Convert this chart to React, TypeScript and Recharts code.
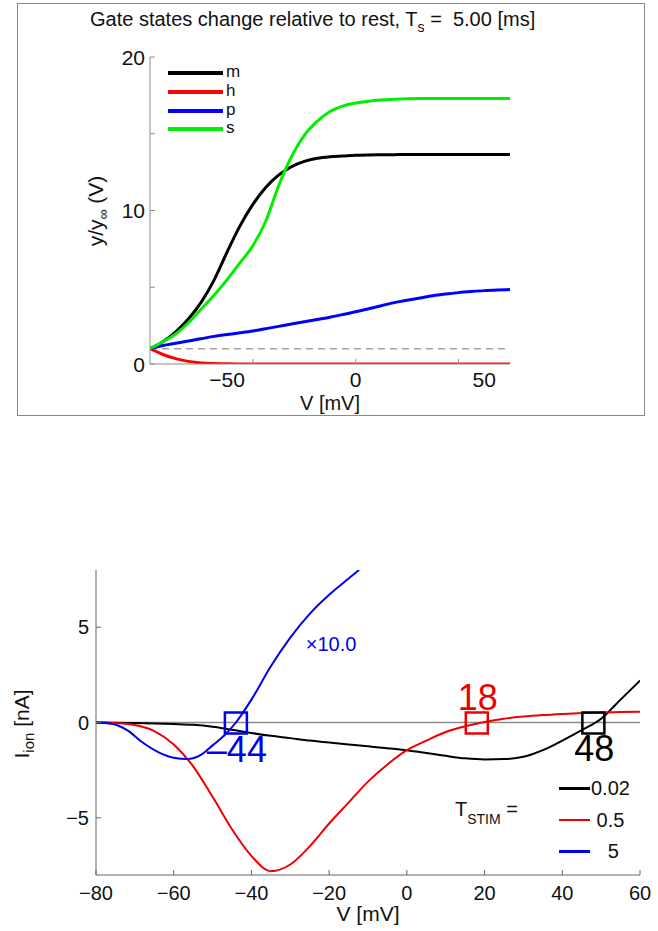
import React from 'react';
import { LineChart, Line, XAxis, YAxis, ReferenceLine, ReferenceDot } from 'recharts';

const FONT = '"Liberation Sans", Arial, Helvetica, sans-serif';

// top panel: gate state ratio y/y_inf after a 5 ms step, vs. step voltage
const gateVoltages = [-80, -75, -70, -65, -60, -55, -50, -45, -40, -35, -30, -25, -20, -15, -10, -5, 0, 5, 10, 15, 20, 25, 30, 35, 40, 45, 50, 55, 60];
const mRatio = [1.0, 1.45, 2.1, 2.95, 4.05, 5.5, 7.3, 9.0, 10.4, 11.5, 12.3, 12.85, 13.2, 13.4, 13.5, 13.55, 13.6, 13.62, 13.63, 13.64, 13.65, 13.65, 13.65, 13.65, 13.65, 13.65, 13.65, 13.65, 13.65];
const hRatio = [1.0, 0.62, 0.35, 0.17, 0.07, 0.03, 0.01, 0.0, 0.0, 0.0, 0.0, 0.0, 0.0, 0.0, 0.0, 0.0, 0.0, 0.0, 0.0, 0.0, 0.0, 0.0, 0.0, 0.0, 0.0, 0.0, 0.0, 0.0, 0.0];
const pRatio = [1.0, 1.2, 1.35, 1.5, 1.65, 1.8, 1.92, 2.03, 2.15, 2.3, 2.45, 2.6, 2.75, 2.9, 3.05, 3.22, 3.4, 3.6, 3.8, 4.0, 4.15, 4.3, 4.45, 4.56, 4.65, 4.72, 4.78, 4.82, 4.85];
const sRatio = [1.0, 1.45, 1.95, 2.7, 3.6, 4.5, 5.5, 6.6, 7.7, 9.3, 11.6, 13.5, 14.9, 15.8, 16.45, 16.8, 17.0, 17.12, 17.2, 17.25, 17.28, 17.3, 17.3, 17.3, 17.3, 17.3, 17.3, 17.3, 17.3];
const gateNames = ['m', 'h', 'p', 's'];
const gateColors = ['#000000', '#ff0000', '#0000ff', '#00ee00'];
const gateXTickMarks = [-40, 0, 40];
const gateXTickLabels = [-50, 0, 50];
const gateYTickMarks = [0, 5, 10, 15, 20];
const gateYTickLabels = [0, 10, 20];

// bottom panel: ionic current vs V for three stimulus durations
const ivVoltages = [-80, -75, -70, -65, -60, -55, -50, -45, -40, -35, -30, -25, -20, -15, -10, -5, 0, 5, 10, 15, 20, 25, 30, 35, 40, 45, 50, 55, 60];
const ionShort = [0, -0.01, -0.03, -0.05, -0.08, -0.12, -0.22, -0.38, -0.55, -0.7, -0.82, -0.95, -1.05, -1.15, -1.25, -1.35, -1.46, -1.6, -1.75, -1.88, -1.94, -1.92, -1.8, -1.45, -0.95, -0.4, 0.2, 1.2, 2.2];
const ionMid = [0, -0.03, -0.13, -0.45, -1.15, -2.3, -3.9, -5.6, -7.0, -7.8, -7.45, -6.5, -5.3, -4.2, -3.1, -2.2, -1.45, -0.95, -0.5, -0.2, 0.03, 0.2, 0.31, 0.39, 0.45, 0.5, 0.53, 0.55, 0.57];
const ionLongVoltages = [-80, -76, -72, -68, -64, -60, -56.5, -53, -50, -47, -44, -40, -35, -30, -25, -20, -15, -12.3];
const ionLong = [0, -0.07, -0.4, -1.05, -1.55, -1.85, -1.92, -1.7, -1.2, -0.68, 0, 1.2, 2.95, 4.45, 5.7, 6.7, 7.55, 8.0];
const stimLabels = ['0.02', ' 0.5', '   5'];
const stimColors = ['#000000', '#ee0000', '#0000ee'];
const crossingV = [-44, 18, 48];
const crossingText = ['\u201344', '18', '48'];
const ivXTicks = [-80, -60, -40, -20, 0, 20, 40, 60];
const ivYTicks = [-5, 0, 5];

const gateRows = gateVoltages.map((v, i) => ({ v, m: mRatio[i], h: hRatio[i], p: pRatio[i], s: sRatio[i] }));
const ivSeries = [
  ivVoltages.map((v, i) => ({ v, i: ionShort[i] })),
  ivVoltages.map((v, i) => ({ v, i: ionMid[i] })),
  ionLongVoltages.map((v, i) => ({ v, i: ionLong[i] })),
];

const fmt = (v: number) => (v < 0 ? '\u2212' + Math.abs(v) : String(v));

// ticks drawn inward, MATLAB style; labels and tick marks can differ
function makeTick(marks: number[], labels: number[], side: 'bottom' | 'left', fontSize: number, gap: number, color: string) {
  return (props: any) => {
    const { x, y, payload } = props;
    const v = payload.value;
    const hasMark = marks.includes(v);
    const hasLabel = labels.includes(v);
    if (side === 'bottom') {
      return (
        <g>
          {hasMark && <line x1={x} x2={x} y1={y} y2={y - 5} stroke={color} strokeWidth={1} />}
          {hasLabel && (
            <text x={x} y={y + gap + fontSize * 0.716} textAnchor="middle" fontSize={fontSize} fontFamily={FONT} fill="#111">
              {fmt(v)}
            </text>
          )}
        </g>
      );
    }
    return (
      <g>
        {hasMark && <line x1={x} x2={x + 5} y1={y} y2={y} stroke={color} strokeWidth={1} />}
        {hasLabel && (
          <text x={x - gap} y={y + fontSize * 0.358} textAnchor="end" fontSize={fontSize} fontFamily={FONT} fill="#111">
            {fmt(v)}
          </text>
        )}
      </g>
    );
  };
}

function crossingShape(color: string, text: string, dy: number) {
  return (props: any) => {
    const { cx, cy } = props;
    return (
      <g>
        <rect x={cx - 11} y={cy - 10} width={22} height={21} fill="none" stroke={color} strokeWidth={2.5} />
        <text x={cx + 1} y={cy + dy} textAnchor="middle" fontSize={36} fontFamily={FONT} fill={color}>
          {text}
        </text>
      </g>
    );
  };
}

const scaleNote = (props: any) => (
  <text x={props.cx} y={props.cy + 7} textAnchor="middle" fontSize={20} fontFamily={FONT} fill="#0000ee">
    {'\u00d710.0'}
  </text>
);

export default function App() {
  return (
    <div style={{ position: 'absolute', left: 0, top: 0, width: 658, height: 931, background: '#fff', fontFamily: FONT }}>
      {/* top panel frame and title */}
      <div style={{ position: 'absolute', left: 17, top: 3, width: 626, height: 411, border: '1px solid #888' }} />
      <div style={{ position: 'absolute', left: 90, top: 8, fontSize: 20, whiteSpace: 'pre', color: '#111' }}>
        Gate states change relative to rest, T<sub style={{ fontSize: 14, verticalAlign: -6, lineHeight: 0 }}>s</sub> =  5.00 [ms]
      </div>

      <div style={{ position: 'absolute', left: 0, top: 0 }}>
        <LineChart width={658} height={420} data={gateRows} margin={{ top: 57, right: 148, bottom: 26, left: 100 }}>
          <XAxis
            dataKey="v"
            type="number"
            domain={[-80, 60]}
            allowDataOverflow
            ticks={[-50, -40, 0, 40, 50]}
            interval={0}
            tickSize={0}
            tickMargin={0}
            tickLine={false}
            height={30}
            stroke="#8c8c8c"
            tick={makeTick(gateXTickMarks, gateXTickLabels, 'bottom', 21, 8, '#8c8c8c')}
          />
          <YAxis
            type="number"
            domain={[0, 20]}
            allowDataOverflow
            ticks={gateYTickMarks}
            interval={0}
            tickSize={0}
            tickMargin={0}
            tickLine={false}
            width={50}
            stroke="#8c8c8c"
            tick={makeTick(gateYTickMarks, gateYTickLabels, 'left', 21, 5, '#8c8c8c')}
          />
          <ReferenceLine y={1} stroke="#a0a0a0" strokeWidth={1.5} strokeDasharray="7 5" />
          {gateNames.map((name, k) => (
            <Line
              key={name}
              dataKey={name}
              type="monotone"
              stroke={gateColors[k]}
              strokeWidth={3}
              dot={false}
              isAnimationActive={false}
            />
          ))}
        </LineChart>
      </div>

      {/* top axis labels */}
      <div style={{ position: 'absolute', left: 330, top: 403, transform: 'translate(-50%, -50%)', fontSize: 20, lineHeight: '20px', whiteSpace: 'nowrap', color: '#111' }}>
        V [mV]
      </div>
      <div style={{ position: 'absolute', left: 96, top: 211, transform: 'translate(-50%, -50%) rotate(-90deg)', fontSize: 21, whiteSpace: 'nowrap', color: '#111' }}>
        y/y<sub style={{ fontSize: 14, verticalAlign: -5, lineHeight: 0 }}>{'\u221e'}</sub> (V)
      </div>

      {/* top legend */}
      <div style={{ position: 'absolute', left: 168, top: 64 }}>
        {gateNames.map((name, k) => (
          <div key={name} style={{ position: 'absolute', left: 0, top: k * 18.8, height: 18, width: 80 }}>
            <div style={{ position: 'absolute', left: 0, top: 7, width: 55, height: 4, background: gateColors[k] }} />
            <div style={{ position: 'absolute', left: 58, top: 0, fontSize: 17, lineHeight: '16px', color: '#111' }}>{name}</div>
          </div>
        ))}
      </div>

      {/* bottom panel */}
      <div style={{ position: 'absolute', left: 0, top: 540 }}>
        <LineChart width={658} height={391} margin={{ top: 30, right: 18, bottom: 26, left: 46 }}>
          <XAxis
            dataKey="v"
            type="number"
            domain={[-80, 60]}
            allowDataOverflow
            ticks={ivXTicks}
            interval={0}
            tickSize={0}
            tickMargin={0}
            tickLine={false}
            height={30}
            stroke="#666"
            tick={makeTick(ivXTicks, ivXTicks, 'bottom', 20, 11, '#666')}
          />
          <YAxis
            type="number"
            domain={[-8, 8]}
            allowDataOverflow
            ticks={ivYTicks}
            interval={0}
            tickSize={0}
            tickMargin={0}
            tickLine={false}
            width={50}
            stroke="#666"
            tick={makeTick(ivYTicks, ivYTicks, 'left', 20, 7, '#666')}
          />
          <ReferenceLine y={0} stroke="#8c8c8c" strokeWidth={1.5} />
          {ivSeries.map((rows, k) => (
            <Line
              key={stimLabels[k]}
              data={rows}
              dataKey="i"
              type="monotone"
              stroke={stimColors[k]}
              strokeWidth={2}
              dot={false}
              isAnimationActive={false}
            />
          ))}
          <ReferenceDot x={crossingV[0]} y={0} shape={crossingShape(stimColors[2], crossingText[0], 39)} />
          <ReferenceDot x={crossingV[1]} y={0} shape={crossingShape(stimColors[1], crossingText[1], -13)} />
          <ReferenceDot x={crossingV[2]} y={0} shape={crossingShape(stimColors[0], crossingText[2], 38)} />
          <ReferenceDot x={-19.5} y={4.1} shape={scaleNote} />
        </LineChart>
      </div>

      {/* bottom axis labels */}
      <div style={{ position: 'absolute', left: 368, top: 914, transform: 'translate(-50%, -50%)', fontSize: 21, whiteSpace: 'nowrap', color: '#111' }}>
        V [mV]
      </div>
      <div style={{ position: 'absolute', left: 22, top: 724, transform: 'translate(-50%, -50%) rotate(-90deg)', fontSize: 21, whiteSpace: 'nowrap', color: '#111' }}>
        I<sub style={{ fontSize: 15, verticalAlign: -5, lineHeight: 0 }}>ion</sub> [nA]
      </div>

      {/* bottom legend */}
      <div style={{ position: 'absolute', left: 455, top: 798, fontSize: 20, whiteSpace: 'pre', color: '#111' }}>
        T<sub style={{ fontSize: 14, verticalAlign: -8, lineHeight: 0 }}>STIM</sub> =
      </div>
      {stimLabels.map((label, k) => (
        <div key={label} style={{ position: 'absolute', left: 559, top: 788 + k * 31.5 }}>
          <div style={{ position: 'absolute', left: 0, top: -1, width: 31, height: 2.5, background: stimColors[k] }} />
          <div style={{ position: 'absolute', left: 32, top: -12, fontSize: 20, lineHeight: '24px', whiteSpace: 'pre', color: '#111' }}>{label}</div>
        </div>
      ))}
    </div>
  );
}
